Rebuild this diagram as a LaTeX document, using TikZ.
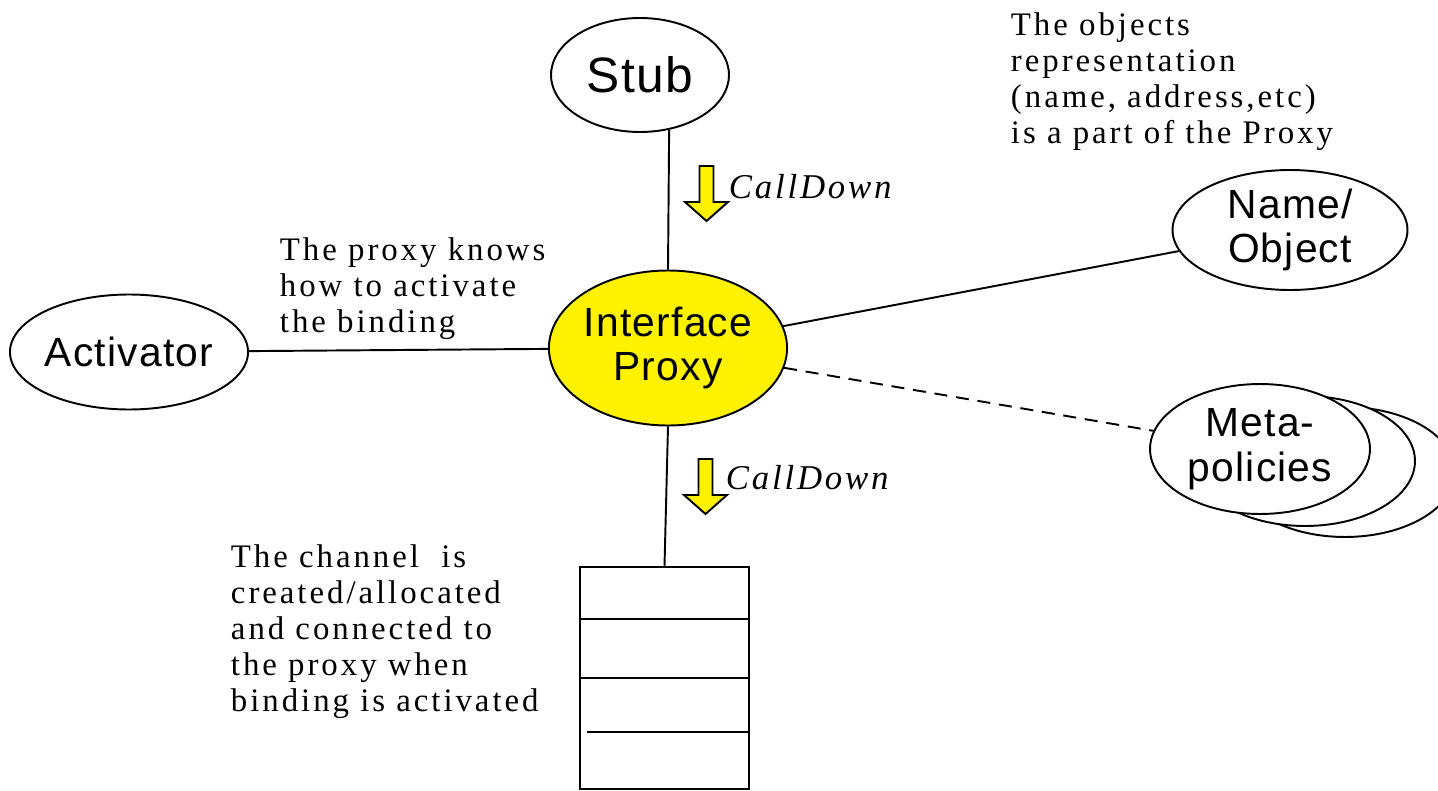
\documentclass[tikz,border=0pt]{standalone}
\usepackage{fontspec}
\newfontfamily\bubblefont[LetterSpace=3]{Liberation Sans}
\newfontfamily\notefont[LetterSpace=9]{Liberation Serif}
\newfontfamily\callfont[LetterSpace=8]{Liberation Serif}
\usetikzlibrary{positioning}
\usetikzlibrary{shapes.geometric}

\tikzset{
  bubble/.style={ellipse, draw, align=center, inner sep=0pt,
    font=\bubblefont\fontsize{23.2}{25.5}\selectfont},
  note/.style={align=left, inner sep=0pt, anchor=north west,
    font=\notefont\fontsize{18.7}{20.4}\selectfont},
  calllabel/.style={anchor=base west, inner sep=0pt,
    font=\callfont\itshape\fontsize{19.8}{22}\selectfont},
  calldown/.pic={
    \filldraw[fill=yellow] (-7,0) -- (7,0) -- (7,36) -- (21.5,36)
      -- (0,55) -- (-21.5,36) -- (-7,36) -- cycle;
  }
}

\begin{document}
\begin{tikzpicture}[x=0.02cm,y=-0.02cm,line width=1.1pt]
  \useasboundingbox (0,0) rectangle (1438,791);
  \node[bubble,fill=yellow,minimum width=4.68cm,minimum height=3.1cm] (proxy) at (668,348) {Interface\\Proxy};
  \node[bubble,minimum width=3.56cm,minimum height=2.28cm,font=\bubblefont\fontsize{28.3}{30}\selectfont] (stub) at (640,75) {Stub};
  \node[bubble,minimum width=4.76cm,minimum height=2.3cm] (activator) at (129,352) {Activator};
  \node[bubble,minimum width=4.7cm,minimum height=2.4cm] (name) at (1290,230) {Name/\\Object};
  \node[bubble,fill=white,minimum width=4.4cm,minimum height=2.6cm] (meta back2) at (1345,472) {};
  \node[bubble,fill=white,minimum width=4.4cm,minimum height=2.6cm] (meta back1) at (1305,461) {};
  \node[bubble,fill=white,minimum width=4.4cm,minimum height=2.6cm] (meta) at (1260,449) {Meta-\\policies};
  \node[draw,minimum width=3.38cm,minimum height=4.44cm] (channel) at (664.5,678) {};
  \draw (channel.west |- 0,619) -- (channel.east |- 0,619);
  \draw (channel.west |- 0,678) -- (channel.east |- 0,678);
  \draw (587,732) -- (channel.east |- 0,732);

  \draw (stub.-62.6) -- (proxy.north);
  \draw (proxy.south) -- (channel.north);
  \draw (activator) -- (proxy);
  \draw (proxy) -- (name);
  \draw[dash pattern=on 7.4pt off 5pt] (proxy) -- (meta);

  \pic at (706.5,166) {calldown};
  \node[calllabel] (call top) at (728,198) {CallDown};
  \pic at (705.5,459) {calldown};
  \node[calllabel] (call bottom) at (725,489) {CallDown};

  \node[note] (objects note) at (1010,12) {The objects\\representation\\(name, address,etc)\\is a part of the Proxy};
  \node[note] (proxy note) at (279,237) {The proxy knows\\how to activate\\the binding};
  \node[note] (channel note) at (230,544) {The channel\ \ is\\created/allocated\\and connected to\\the proxy when\\binding is activated};
\end{tikzpicture}
\end{document}
